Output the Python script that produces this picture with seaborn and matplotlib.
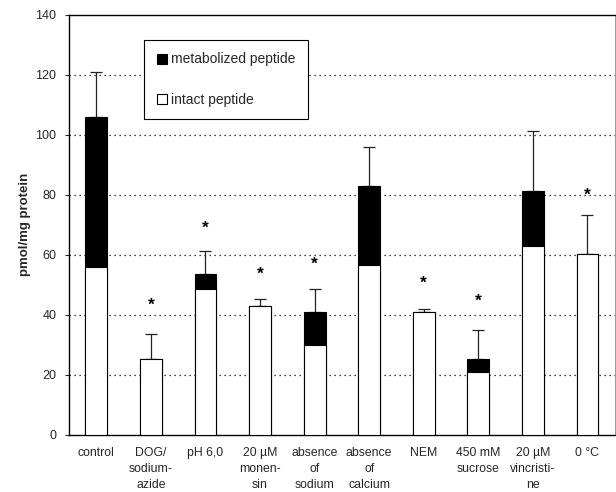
import matplotlib
matplotlib.use("Agg")
import matplotlib.pyplot as plt
from matplotlib.patches import Patch
import seaborn as sns
import pandas as pd
import numpy as np

categories = ["control", "DOG/\nsodium-\nazide", "pH 6,0", "20 µM\nmonen-\nsin",
              "absence\nof\nsodium", "absence\nof\ncalcium", "NEM", "450 mM\nsucrose",
              "20 µM\nvincristi-\nne", "0 °C"]
total = [106.0, 25.3, 53.5, 42.8, 41.0, 82.8, 41.1, 25.2, 81.4, 60.4]
intact = [56.0, 25.3, 48.7, 42.8, 30.1, 56.7, 41.1, 21.0, 62.9, 60.4]
sd = [15.0, 8.4, 7.9, 2.5, 7.7, 13.0, 0.8, 9.8, 19.9, 12.8]
star_y = [None, 44.0, 69.7, 54.3, 57.7, None, 51.3, 45.3, None, 80.9]
yticks = [0, 20, 40, 60, 80, 100, 120, 140]

sns.set_theme(style="white")
plt.rcParams['font.family'] = ['Liberation Sans', 'DejaVu Sans']

df = pd.DataFrame({"cat": categories, "total": total, "intact": intact, "sd": sd})

fig = plt.figure(figsize=(6.16, 4.92), dpi=100)
ax = fig.add_axes([0.112, 0.116, 0.886, 0.854])

for y in yticks[1:-1]:
    ax.axhline(y, color="black", linestyle=(0, (1, 3)), linewidth=0.9, zorder=0)

sns.barplot(data=df, x="cat", y="total", color="black", width=0.4,
            edgecolor="black", linewidth=0.8, ax=ax, zorder=2, saturation=1)
sns.barplot(data=df, x="cat", y="intact", color="white", width=0.4,
            edgecolor="black", linewidth=0.8, ax=ax, zorder=3, saturation=1)

xs = np.arange(len(categories))
ax.errorbar(xs, df["total"], yerr=[np.zeros(len(sd)), df["sd"]], fmt="none",
            ecolor="#222222", elinewidth=0.9, capsize=4, capthick=0.9, zorder=1)

for x, s in zip(xs, star_y):
    if s is not None:
        ax.annotate("*", (x, s), xytext=(0, -2), textcoords="offset points",
                    ha="center", va="center", fontsize=12.5, fontweight="bold", color="black")

ax.set_ylim(0, 140)
ax.set_xlim(-0.5, len(categories) - 0.5)
ax.set_yticks(yticks)
ax.set_yticklabels([str(t) for t in yticks], fontsize=9)
ax.set_xticks(xs)
ax.set_xticklabels(categories, fontsize=8.8, linespacing=1.42, va="top")
ax.set_xlabel("")
ax.set_ylabel("pmol/mg protein", fontsize=9.5, fontweight="bold", labelpad=3)
ax.tick_params(axis="y", which="major", length=3, width=0.8, direction="out", left=True, pad=6)
ax.tick_params(axis="x", length=0, pad=9)

for side in ["left", "bottom", "top", "right"]:
    ax.spines[side].set_visible(True)
    ax.spines[side].set_color("black")
    ax.spines[side].set_linewidth(1.0)
ax.spines["right"].set_color("#888888")
ax.spines["right"].set_linewidth(0.6)

handles = [Patch(facecolor="black", edgecolor="black", linewidth=0.8),
           Patch(facecolor="white", edgecolor="black", linewidth=0.8)]
leg = ax.legend(handles, ["metabolized peptide", "intact peptide"],
                loc="upper left", bbox_to_anchor=(0.138, 0.94), fontsize=10,
                frameon=True, fancybox=False, framealpha=1, edgecolor="black",
                handlelength=0.75, handleheight=0.75, handletextpad=0.25,
                labelspacing=1.9, borderpad=0.9, borderaxespad=0)
leg.get_frame().set_linewidth(0.8)
leg.set_zorder(5)

fig.savefig("out.png", dpi=100)
